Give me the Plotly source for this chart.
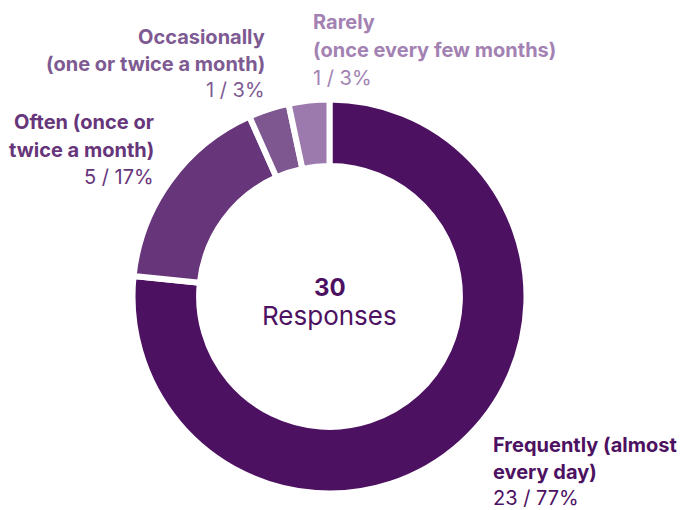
import plotly.graph_objects as go

# Survey answers: how often respondents use the service
categories = [
    "Frequently (almost every day)",
    "Often (once or twice a month)",
    "Occasionally (one or twice a month)",
    "Rarely (once every few months)",
]
label_lines = [
    ["Frequently (almost", "every day)"],
    ["Often (once or", "twice a month)"],
    ["Occasionally", "(one or twice a month)"],
    ["Rarely", "(once every few months)"],
]
counts = [23, 5, 1, 1]
slice_colors = ["#4d1162", "#66357a", "#7e5690", "#9d7aad"]
label_colors = ["#4d1162", "#66357a", "#7e5a92", "#a382b3"]

total = sum(counts)
W, H = 681, 510
FONT = "Inter, Lato, sans-serif"

fig = go.Figure(
    go.Pie(
        labels=categories,
        values=counts,
        hole=0.662,
        sort=False,
        direction="clockwise",
        rotation=0,
        textinfo="none",
        hoverinfo="label+value+percent",
        marker=dict(colors=slice_colors, line=dict(color="white", width=6)),
        domain=dict(x=[0.1946, 0.7731], y=[0.0324, 0.8049]),
        showlegend=False,
    )
)

# label block anchor (px, top-left origin), alignment and line spacing
label_pos = [
    (491, 445, "left", 26.5),
    (156, 122, "right", 27.5),
    (267, 37, "right", 26.5),
    (311, 22, "left", 28),
]

annotations = []
for lines, n, col, (px, py, align, step) in zip(label_lines, counts, label_colors, label_pos):
    pct = round(100 * n / total)
    texts = [f"<b>{t}</b>" for t in lines] + [f"{n} / {pct}%"]
    for i, t in enumerate(texts):
        annotations.append(dict(
            x=px / W, y=1 - (py + i * step) / H, xref="paper", yref="paper",
            xanchor=align, yanchor="middle", align=align, showarrow=False,
            text=t, font=dict(family=FONT, size=20, color=col),
        ))

# total in the centre of the ring
annotations.append(dict(
    x=329.5 / W, y=1 - 287 / H, xref="paper", yref="paper",
    xanchor="center", yanchor="middle", showarrow=False,
    text=f"<b>{total}</b>", font=dict(family=FONT, size=24, color="#4d1162"),
))
annotations.append(dict(
    x=329.5 / W, y=1 - 315 / H, xref="paper", yref="paper",
    xanchor="center", yanchor="middle", showarrow=False,
    text="Responses", font=dict(family=FONT, size=26, color="#4d1162"),
))

fig.update_layout(
    width=W, height=H,
    margin=dict(l=0, r=0, t=0, b=0),
    paper_bgcolor="white", plot_bgcolor="white",
    annotations=annotations,
)

fig.write_html("out.html")
